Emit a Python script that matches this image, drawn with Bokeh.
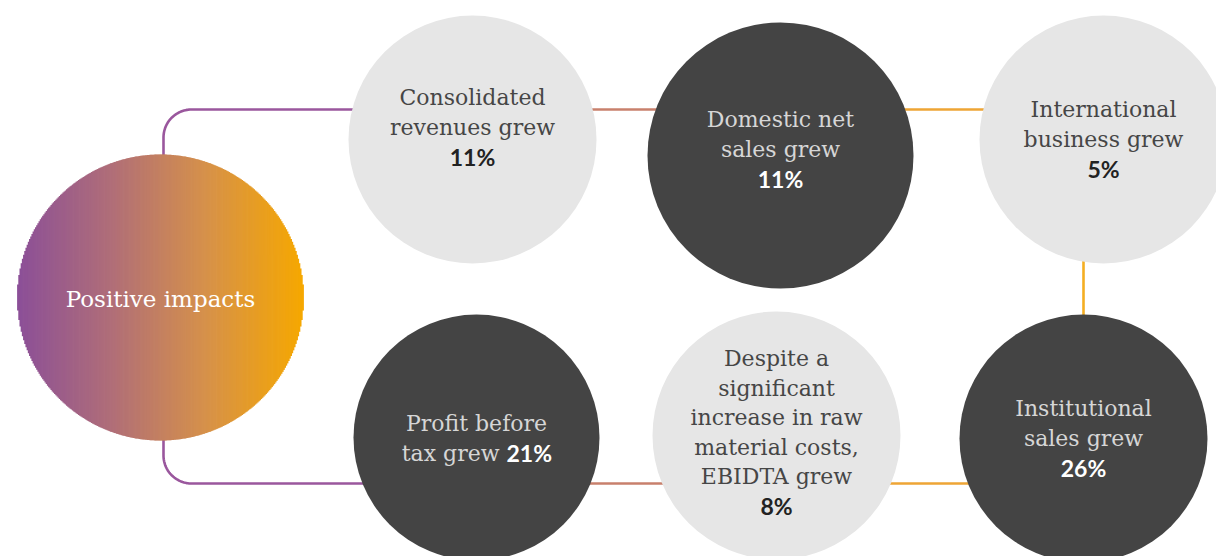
import numpy as np
from bokeh.plotting import figure
from bokeh.models import Range1d
from bokeh.core.properties import value
from bokeh.embed import file_html
from bokeh.resources import INLINE

# ---------------- data ----------------
hub_label = "Positive impacts"
impact_texts = [
    ["Consolidated", "revenues grew"],
    ["Domestic net", "sales grew"],
    ["International", "business grew"],
    ["Institutional", "sales grew"],
    ["Despite a", "significant", "increase in raw", "material costs,", "EBIDTA grew"],
    ["Profit before", "tax grew"],
]
impact_growth = ["11%", "11%", "5%", "26%", "8%", "21%"]
impact_tone = ["light", "dark", "light", "dark", "light", "dark"]

# ---------------- layout (pixel coordinates of the picture) ----------------
hub_x, hub_y, hub_r = 160, 297, 143
cx = [472, 780, 1103, 1083, 776, 476]
cy = [139, 155, 139, 438, 435, 437]
cr = [124, 133, 124, 124, 124, 123]
first_line_y = [97, 119, 109, 408, 358, 423]
growth_inline = [False, False, False, False, False, True]
line_gap = 29.5
top_row_y, bottom_row_y, right_col_x = 109, 483, 1083
elbow_x, elbow_r = 163, 28

LIGHT, DARK = "#e6e6e6", "#444444"
SERIF = "DejaVu Serif"
SANS = "Lato"
W, H = 1216, 556

p = figure(width=W, height=H, output_backend="svg", toolbar_location=None,
           x_range=Range1d(0, W), y_range=Range1d(H, 0), min_border=0)
p.axis.visible = False
p.grid.visible = False
p.outline_line_color = None
p.background_fill_color = "white"
p.border_fill_color = "white"

# ---------------- connectors ----------------
lw = 2.6
t = np.linspace(np.pi, 1.5 * np.pi, 30)
ex = list(elbow_x + elbow_r + elbow_r * np.cos(t))
ey = list(top_row_y + elbow_r + elbow_r * np.sin(t))
p.line([elbow_x] + ex + [cx[0]], [hub_y] + ey + [top_row_y], line_color="#9a579d", line_width=lw)
t = np.linspace(np.pi, 0.5 * np.pi, 30)
ex = list(elbow_x + elbow_r + elbow_r * np.cos(t))
ey = list(bottom_row_y - elbow_r + elbow_r * np.sin(t))
p.line([elbow_x] + ex + [cx[5]], [hub_y] + ey + [bottom_row_y], line_color="#9a579d", line_width=lw)
p.line([cx[0], cx[1]], [top_row_y, top_row_y], line_color="#c8806c", line_width=lw)
p.line([cx[1], cx[2]], [top_row_y, top_row_y], line_color="#eea535", line_width=lw)
p.line([right_col_x, right_col_x], [cy[2], cy[3]], line_color="#f4ae22", line_width=lw)
p.line([cx[3], cx[4]], [bottom_row_y, bottom_row_y], line_color="#eea535", line_width=lw)
p.line([cx[4], cx[5]], [bottom_row_y, bottom_row_y], line_color="#c8806c", line_width=lw)

# ---------------- hub circle with horizontal gradient ----------------
stops = np.array([0.0, 0.33, 0.66, 1.0])
stop_rgb = np.array([[139, 79, 152], [176, 110, 120], [214, 145, 74], [246, 168, 0]], dtype=float)
n = 240
edges = np.linspace(hub_x - hub_r, hub_x + hub_r, n + 1)
mids = (edges[:-1] + edges[1:]) / 2
half = np.sqrt(np.clip(hub_r ** 2 - (mids - hub_x) ** 2, 0, None))
frac = (mids - edges[0]) / (2 * hub_r)
cols = []
for f in frac:
    rgb = [np.interp(f, stops, stop_rgb[:, k]) for k in range(3)]
    cols.append("#%02x%02x%02x" % tuple(int(round(v)) for v in rgb))
p.quad(left=edges[:-1] - 0.4, right=edges[1:] + 0.4, top=hub_y - half, bottom=hub_y + half,
       fill_color=cols, line_color=None)
p.text([hub_x], [hub_y + 1], text=[hub_label], text_font=value(SERIF), text_font_size="23px",
       text_color="white", text_align="center", text_baseline="middle")

# ---------------- impact circles ----------------
fills = [LIGHT if t_ == "light" else DARK for t_ in impact_tone]
p.circle(cx, cy, radius=cr, fill_color=fills, line_color=None)

for i, lines in enumerate(impact_texts):
    light = impact_tone[i] == "light"
    tcol = "#464646" if light else "#d6d6d6"
    pcol = "#222222" if light else "#ffffff"
    ys = [first_line_y[i] + k * line_gap for k in range(len(lines))]
    if growth_inline[i]:
        p.text([cx[i]] * (len(lines) - 1), ys[:-1], text=lines[:-1], text_font=value(SERIF),
               text_font_size="22px", text_color=tcol, text_align="center", text_baseline="middle")
        p.text([cx[i] + 23], [ys[-1]], text=[lines[-1]], text_font=value(SERIF),
               text_font_size="22px", text_color=tcol, text_align="right", text_baseline="middle")
        p.text([cx[i] + 30], [ys[-1]], text=[impact_growth[i]], text_font=value(SANS),
               text_font_style="bold", text_font_size="23px", text_color=pcol,
               text_align="left", text_baseline="middle")
    else:
        p.text([cx[i]] * len(lines), ys, text=lines, text_font=value(SERIF),
               text_font_size="22px", text_color=tcol, text_align="center", text_baseline="middle")
        p.text([cx[i]], [ys[-1] + line_gap], text=[impact_growth[i]], text_font=value(SANS),
               text_font_style="bold", text_font_size="23px", text_color=pcol,
               text_align="center", text_baseline="middle")

open("out.html", "w").write(file_html(p, INLINE))
